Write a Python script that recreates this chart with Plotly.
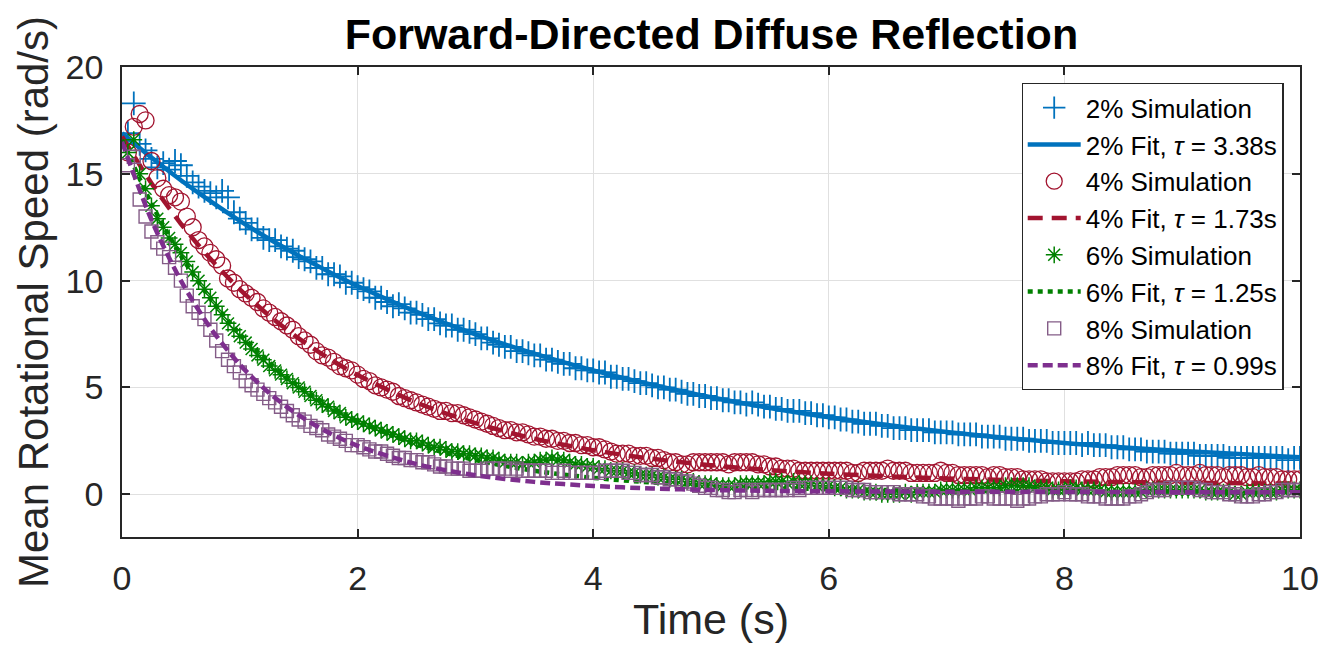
import numpy as np
import plotly.graph_objects as go

# ---------------- data ----------------
t_sim = np.round(np.arange(1, 201) * 0.05, 2)

sim_2 = [16.9, 18.3, 16.4, 16.1, 15.7, 15.3, 15.5, 15.2, 15.6, 15.4, 14.9, 14.6, 14.4, 14.2, 14.1, 13.9, 14.2, 13.9, 13.2, 12.9,
         12.7, 12.4, 12.4, 12.0, 11.9, 11.9, 11.6, 11.5, 11.4, 11.1, 11.0, 10.9, 10.6, 10.6, 10.3, 10.3, 10.2, 9.9, 9.9, 9.7,
         9.6, 9.5, 9.2, 9.2, 9.0, 8.8, 8.9, 8.7, 8.5, 8.5, 8.4, 8.2, 8.2, 8.0, 7.9, 7.9, 7.7, 7.7, 7.6, 7.5,
         7.3, 7.3, 7.1, 7.0, 6.9, 6.9, 6.7, 6.7, 6.6, 6.5, 6.5, 6.3, 6.3, 6.2, 6.1, 6.1, 5.9, 5.9, 5.8, 5.8,
         5.7, 5.7, 5.5, 5.5, 5.4, 5.4, 5.3, 5.2, 5.2, 5.1, 5.0, 5.0, 4.9, 4.9, 4.8, 4.7, 4.7, 4.6, 4.6, 4.5,
         4.5, 4.4, 4.4, 4.3, 4.3, 4.2, 4.3, 4.2, 4.1, 4.1, 4.0, 4.0, 3.9, 3.9, 3.9, 3.8, 3.8, 3.7, 3.7, 3.6,
         3.6, 3.5, 3.5, 3.4, 3.4, 3.3, 3.3, 3.3, 3.2, 3.2, 3.1, 3.1, 3.1, 3.0, 3.0, 3.0, 3.0, 2.9, 2.9, 2.9,
         2.9, 2.8, 2.8, 2.8, 2.8, 2.7, 2.7, 2.7, 2.7, 2.6, 2.6, 2.6, 2.6, 2.5, 2.5, 2.5, 2.5, 2.4, 2.4, 2.4,
         2.4, 2.4, 2.3, 2.4, 2.3, 2.3, 2.3, 2.2, 2.2, 2.2, 2.1, 2.1, 2.1, 2.0, 2.0, 2.0, 2.0, 1.9, 1.9, 1.9,
         1.9, 1.9, 1.8, 1.8, 1.8, 1.8, 1.8, 1.7, 1.7, 1.7, 1.7, 1.7, 1.7, 1.7, 1.7, 1.7, 1.7, 1.6, 1.7, 1.7]

sim_4 = [16.0, 17.2, 17.8, 17.5, 15.6, 14.8, 14.3, 14.0, 13.9, 13.7, 13.0, 12.5, 11.9, 11.6, 11.3, 11.0, 10.7, 10.1, 9.9, 9.6,
         9.4, 9.2, 9.0, 8.7, 8.5, 8.3, 8.1, 7.9, 7.7, 7.4, 7.2, 7.0, 6.7, 6.5, 6.4, 6.2, 6.0, 5.9, 5.8, 5.6,
         5.4, 5.3, 5.1, 5.0, 4.9, 4.8, 4.6, 4.5, 4.4, 4.3, 4.2, 4.1, 4.0, 3.9, 3.9, 3.8, 3.8, 3.7, 3.6, 3.5,
         3.4, 3.3, 3.2, 3.1, 3.0, 3.0, 2.9, 2.9, 2.8, 2.7, 2.7, 2.6, 2.6, 2.5, 2.5, 2.4, 2.4, 2.3, 2.3, 2.2,
         2.2, 2.1, 2.0, 1.9, 1.9, 1.9, 1.8, 1.8, 1.8, 1.7, 1.7, 1.6, 1.5, 1.5, 1.4, 1.4, 1.5, 1.5, 1.5, 1.5,
         1.5, 1.5, 1.4, 1.5, 1.5, 1.5, 1.5, 1.4, 1.4, 1.3, 1.3, 1.2, 1.2, 1.2, 1.1, 1.1, 1.1, 1.1, 1.1, 1.1,
         1.1, 1.1, 1.1, 1.0, 1.0, 1.1, 1.1, 1.1, 1.1, 1.2, 1.1, 1.1, 1.1, 1.0, 1.0, 1.0, 1.0, 1.0, 1.1, 1.0,
         1.0, 0.9, 0.9, 0.9, 0.9, 0.9, 0.8, 0.9, 0.9, 0.8, 0.8, 0.8, 0.7, 0.7, 0.7, 0.7, 0.6, 0.6, 0.6, 0.6,
         0.6, 0.6, 0.7, 0.7, 0.7, 0.8, 0.8, 0.8, 0.9, 0.9, 0.9, 0.9, 0.8, 0.8, 0.9, 0.9, 0.9, 0.9, 1.0, 0.9,
         0.9, 0.9, 1.0, 0.9, 0.9, 0.9, 0.8, 0.9, 0.9, 0.9, 0.8, 0.8, 0.9, 0.8, 0.8, 0.8, 0.7, 0.7, 0.7, 0.7]

sim_6 = [16.0, 16.6, 15.0, 14.3, 13.5, 12.9, 12.5, 12.0, 11.7, 11.3, 10.9, 10.4, 10.0, 9.6, 9.2, 8.8, 8.4, 8.0, 7.7, 7.4,
         7.1, 6.8, 6.5, 6.3, 6.0, 5.8, 5.6, 5.4, 5.2, 5.0, 4.8, 4.6, 4.4, 4.2, 4.1, 3.9, 3.8, 3.6, 3.5, 3.4,
         3.3, 3.2, 3.1, 3.0, 2.9, 2.8, 2.7, 2.6, 2.5, 2.5, 2.4, 2.3, 2.2, 2.2, 2.1, 2.0, 2.0, 1.9, 1.9, 1.8,
         1.8, 1.7, 1.7, 1.6, 1.5, 1.5, 1.5, 1.4, 1.5, 1.5, 1.6, 1.6, 1.7, 1.6, 1.6, 1.5, 1.4, 1.4, 1.3, 1.3,
         1.2, 1.2, 1.1, 1.1, 1.1, 1.0, 1.0, 0.9, 0.9, 0.9, 0.8, 0.8, 0.7, 0.7, 0.7, 0.6, 0.6, 0.5, 0.5, 0.5,
         0.4, 0.4, 0.4, 0.4, 0.5, 0.5, 0.5, 0.5, 0.5, 0.6, 0.6, 0.6, 0.5, 0.6, 0.5, 0.5, 0.5, 0.4, 0.4, 0.4,
         0.3, 0.3, 0.2, 0.2, 0.2, 0.1, 0.1, 0.1, 0.0, 0.0, 0.0, 0.0, 0.1, 0.0, 0.1, 0.1, 0.1, 0.1, 0.2, 0.2,
         0.2, 0.2, 0.2, 0.2, 0.3, 0.3, 0.3, 0.3, 0.3, 0.4, 0.4, 0.4, 0.4, 0.4, 0.3, 0.3, 0.3, 0.2, 0.2, 0.2,
         0.3, 0.3, 0.2, 0.2, 0.2, 0.2, 0.1, 0.1, 0.1, 0.1, 0.1, 0.1, 0.1, 0.2, 0.2, 0.2, 0.2, 0.2, 0.2, 0.2,
         0.2, 0.2, 0.2, 0.1, 0.1, 0.1, 0.1, 0.1, 0.0, 0.0, 0.1, 0.1, 0.1, 0.1, 0.1, 0.1, 0.2, 0.2, 0.2, 0.2]

sim_8 = [15.4, 15.8, 13.8, 13.0, 12.3, 11.8, 11.5, 11.1, 10.6, 10.0, 9.3, 8.8, 8.5, 8.2, 7.7, 7.2, 6.7, 6.3, 6.0, 5.7,
         5.3, 5.1, 4.9, 4.7, 4.5, 4.3, 4.1, 3.9, 3.7, 3.5, 3.4, 3.2, 3.1, 3.0, 2.8, 2.7, 2.6, 2.5, 2.3, 2.3,
         2.2, 2.1, 2.0, 2.0, 1.9, 1.8, 1.7, 1.7, 1.6, 1.6, 1.5, 1.5, 1.4, 1.3, 1.3, 1.2, 1.2, 1.2, 1.1, 1.1,
         1.1, 1.2, 1.2, 1.2, 1.2, 1.1, 1.2, 1.1, 1.1, 1.1, 1.1, 1.1, 1.0, 1.0, 1.1, 1.0, 1.0, 1.0, 1.0, 1.0,
         1.0, 1.1, 1.1, 1.1, 1.1, 1.0, 1.0, 0.9, 0.9, 0.9, 0.8, 0.8, 0.7, 0.7, 0.6, 0.6, 0.5, 0.4, 0.3, 0.3,
         0.2, 0.2, 0.1, 0.1, 0.2, 0.2, 0.1, 0.2, 0.2, 0.2, 0.2, 0.2, 0.2, 0.3, 0.2, 0.3, 0.3, 0.3, 0.3, 0.3,
         0.3, 0.3, 0.3, 0.2, 0.2, 0.2, 0.1, 0.1, 0.1, 0.1, 0.1, 0.0, 0.0, 0.0, 0.0, -0.1, -0.1, -0.2, -0.2, -0.2,
         -0.2, -0.3, -0.2, -0.2, -0.2, -0.1, -0.1, -0.2, -0.2, -0.2, -0.2, -0.3, -0.2, -0.2, -0.1, -0.1, 0.0, 0.0, 0.0, 0.1,
         0.0, 0.0, 0.0, -0.1, -0.1, -0.1, -0.2, -0.2, -0.2, -0.2, -0.1, -0.1, 0.0, 0.1, 0.2, 0.2, 0.2, 0.3, 0.3, 0.3,
         0.3, 0.3, 0.2, 0.2, 0.1, 0.1, 0.1, 0.0, 0.0, -0.1, -0.1, -0.1, 0.0, 0.0, 0.1, 0.1, 0.2, 0.2, 0.2, 0.2]

t_fit = [0, 0.25, 0.5, 0.75, 1, 1.25, 1.5, 1.75, 2, 2.5, 3, 3.5, 4, 4.5, 5, 5.5, 6, 7, 8, 9, 10]
fit_2 = [16.9, 15.76, 14.70, 13.72, 12.80, 11.95, 11.17, 10.43, 9.75, 8.54, 7.49, 6.58, 5.80, 5.13, 4.54, 4.04, 3.61, 2.92, 2.40, 2.02, 1.73]
fit_4 = [16.75, 14.56, 12.66, 11.02, 9.59, 8.36, 7.30, 6.38, 5.58, 4.29, 3.33, 2.60, 2.06, 1.66, 1.36, 1.13, 0.96, 0.74, 0.61, 0.54, 0.50]
fit_6 = [16.6, 13.61, 11.16, 9.16, 7.51, 6.17, 5.07, 4.17, 3.43, 2.33, 1.60, 1.10, 0.77, 0.55, 0.40, 0.30, 0.24, 0.16, 0.13, 0.11, 0.10]
fit_8 = [16.5, 12.84, 10.00, 7.79, 6.07, 4.74, 3.70, 2.90, 2.27, 1.41, 0.89, 0.58, 0.39, 0.27, 0.20, 0.16, 0.14, 0.12, 0.11, 0.10, 0.10]

sim_names = ["2% Simulation", "4% Simulation", "6% Simulation", "8% Simulation"]
fit_names = ["2% Fit, <i>τ</i> = 3.38s", "4% Fit, <i>τ</i> = 1.73s",
             "6% Fit, <i>τ</i> = 1.25s", "8% Fit, <i>τ</i> = 0.99s"]
x_ticks = [0, 2, 4, 6, 8, 10]
y_ticks = [0, 5, 10, 15, 20]

# ---------------- styles ----------------
sim_colors = ["#0072BD", "#A2142F", "#008000", "#845C87"]
fit_colors = ["#0072BD", "#A2142F", "#008000", "#7E2F8E"]
symbols = ["cross-thin-open", "circle-open", "asterisk-open", "square-open"]
msizes = [17, 17, 14, 13]
mwidths = [1.8, 1.3, 1.5, 1.4]
dashes = ["solid", "15px,9px", "5px,5px", "10px,5px"]

fig = go.Figure()
sims = [sim_2, sim_4, sim_6, sim_8]
fits = [fit_2, fit_4, fit_6, fit_8]
for i in range(4):
    fig.add_trace(go.Scatter(
        x=t_sim, y=sims[i], mode="markers", name=sim_names[i],
        marker=dict(symbol=symbols[i], size=msizes[i], color=sim_colors[i],
                    line=dict(color=sim_colors[i], width=mwidths[i])),
    ))
    fig.add_trace(go.Scatter(
        x=t_fit, y=fits[i], mode="lines", name=fit_names[i],
        line=dict(color=fit_colors[i], width=4.5, dash=dashes[i], shape="spline", smoothing=0.8),
    ))

axis_col = "#262626"
fig.update_layout(
    width=1330, height=651,
    margin=dict(l=122, r=30, t=67, b=114),
    paper_bgcolor="white", plot_bgcolor="white",
    font=dict(family="Liberation Sans, Arial, sans-serif", color=axis_col),
    title=dict(text="<b>Forward-Directed Diffuse Reflection</b>", x=0.5349, xanchor="center",
               y=0.948, yanchor="middle", font=dict(size=43, color="black")),
    showlegend=True,
    legend=dict(x=0.986, xanchor="right", y=0.966, yanchor="top",
                bgcolor="white", bordercolor=axis_col, borderwidth=1.2,
                font=dict(size=26, color="black"), itemwidth=53,
                tracegroupgap=0),
)
fig.update_xaxes(
    range=[0, 10], tickvals=x_ticks, ticktext=[str(v) for v in x_ticks],
    showgrid=True, gridcolor="#e0e0e0", gridwidth=1,
    showline=True, linecolor=axis_col, linewidth=1.5, mirror="ticks",
    ticks="inside", ticklen=8, tickcolor=axis_col, tickwidth=1.5,
    tickfont=dict(size=34, color=axis_col), ticklabelstandoff=10,
    title=dict(text="Time (s)", font=dict(size=43, color=axis_col), standoff=8),
    zeroline=False,
)
fig.update_yaxes(
    range=[-2, 20], tickvals=y_ticks, ticktext=[str(v) for v in y_ticks],
    showgrid=True, gridcolor="#e0e0e0", gridwidth=1,
    showline=True, linecolor=axis_col, linewidth=1.5, mirror="ticks",
    ticks="inside", ticklen=8, tickcolor=axis_col, tickwidth=1.5,
    tickfont=dict(size=34, color=axis_col), ticklabelstandoff=10,
    title=dict(text="Mean Rotational Speed (rad/s)", font=dict(size=42, color=axis_col), standoff=4),
    zeroline=False,
)

fig.write_html("out.html")
